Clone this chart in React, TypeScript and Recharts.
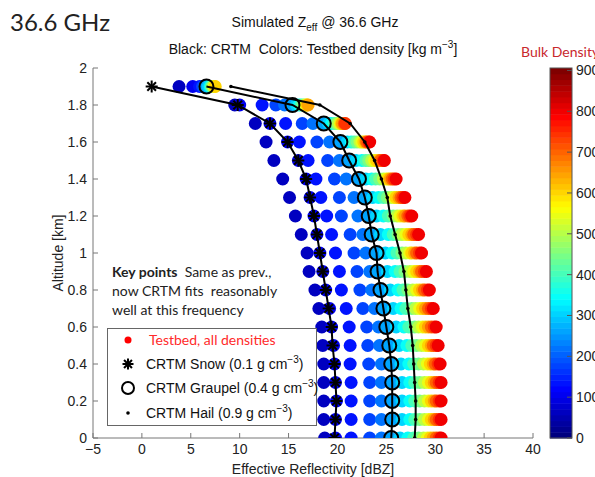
import React from 'react';
import { ScatterChart, Scatter, XAxis, YAxis } from 'recharts';

// altitude of every row [km]
const altitudes = [0, 0.1, 0.2, 0.3, 0.4, 0.5, 0.6, 0.7, 0.8, 0.9, 1.0, 1.1, 1.2, 1.3, 1.4, 1.5, 1.6, 1.7, 1.8, 1.9];

// testbed bulk densities [kg m-3], one per dot in a row
const densities = [60, 100, 140, 180, 220, 260, 300, 350, 400, 450, 500, 550, 600, 650, 700, 750, 800];

// testbed Z_eff [dBZ], one row per altitude, ordered like densities
const testbedZ = [
  [18.7, 19.8, 21.4, 23.3, 24.5, 25.4, 26.4, 27.2, 27.8, 28.3, 28.8, 29.2, 29.5, 29.8, 30.1, 30.4, 30.6],
  [18.6, 19.8, 21.4, 23.3, 24.5, 25.6, 26.6, 27.4, 27.9, 28.4, 28.9, 29.3, 29.6, 29.9, 30.1, 30.4, 30.6],
  [18.6, 19.9, 21.4, 23.3, 24.5, 25.6, 26.6, 27.4, 27.9, 28.4, 28.9, 29.3, 29.6, 29.9, 30.1, 30.4, 30.6],
  [18.6, 19.8, 21.4, 23.3, 24.5, 25.6, 26.6, 27.4, 27.9, 28.4, 28.9, 29.3, 29.6, 29.9, 30.1, 30.4, 30.6],
  [18.6, 19.7, 21.3, 23.2, 24.5, 25.5, 26.5, 27.3, 27.8, 28.3, 28.8, 29.2, 29.5, 29.8, 30.0, 30.3, 30.5],
  [18.5, 19.6, 21.3, 23.1, 24.3, 25.3, 26.3, 27.1, 27.6, 28.1, 28.6, 29.0, 29.3, 29.6, 29.8, 30.1, 30.3],
  [18.4, 19.4, 21.2, 23.0, 24.2, 25.0, 26.0, 26.8, 27.3, 27.9, 28.3, 28.7, 29.0, 29.3, 29.6, 29.9, 30.1],
  [18.1, 19.2, 20.9, 22.6, 23.8, 24.7, 25.7, 26.5, 27.0, 27.6, 28.0, 28.4, 28.7, 29.0, 29.3, 29.6, 29.8],
  [17.7, 18.8, 20.4, 22.3, 23.5, 24.4, 25.4, 26.2, 26.7, 27.2, 27.7, 28.1, 28.4, 28.7, 28.9, 29.2, 29.4],
  [17.1, 18.5, 20.2, 22.0, 23.3, 24.1, 25.1, 25.9, 26.4, 26.9, 27.4, 27.8, 28.1, 28.4, 28.6, 28.9, 29.1],
  [16.9, 18.2, 19.8, 21.7, 22.9, 24.0, 24.9, 25.6, 26.1, 26.6, 27.0, 27.4, 27.6, 27.9, 28.1, 28.4, 28.6],
  [16.3, 17.9, 19.4, 21.3, 22.6, 23.5, 24.4, 25.2, 25.7, 26.2, 26.6, 27.0, 27.3, 27.6, 27.8, 28.1, 28.3],
  [15.7, 17.6, 18.9, 20.4, 22.1, 23.2, 24.0, 24.7, 25.2, 25.7, 26.1, 26.4, 26.7, 26.9, 27.2, 27.4, 27.6],
  [15.1, 17.2, 18.3, 20.2, 21.7, 22.8, 23.6, 24.2, 24.7, 25.1, 25.5, 25.8, 26.0, 26.3, 26.5, 26.7, 26.9],
  [14.4, 16.8, 17.8, 19.7, 20.9, 22.2, 22.9, 23.5, 23.9, 24.3, 24.7, 25.0, 25.2, 25.4, 25.6, 25.8, 26.0],
  [13.5, 16.0, 17.0, 19.0, 20.2, 21.2, 21.9, 22.5, 22.9, 23.2, 23.5, 23.8, 24.0, 24.3, 24.4, 24.7, 24.8],
  [12.7, 14.9, 16.1, 17.9, 19.2, 20.3, 21.0, 21.4, 21.7, 22.0, 22.3, 22.5, 22.7, 22.9, 23.0, 23.2, 23.3],
  [11.6, 13.1, 14.7, 16.4, 17.5, 18.6, 19.1, 19.4, 19.7, 19.9, 20.1, 20.3, 20.4, 20.5, 20.7, 20.8],
  [9.5, 10.0, 12.3, 13.7, 14.6, 15.4, 15.8, 16.1, 16.3, 16.5, 16.7, 16.8, 16.9, 17.0],
  [3.8, 5.2, 5.9, 6.2, 6.4, 6.6, 6.8, 7.0, 7.1, 7.2, 7.3, 7.4, 7.5],
];

// CRTM profiles [dBZ], ordered like altitudes
const snowZ = [19.7, 19.8, 19.9, 19.8, 19.7, 19.5, 19.4, 19.1, 18.8, 18.5, 18.2, 17.9, 17.6, 17.2, 16.8, 16.0, 14.9, 13.1, 9.8, 1.0];
const graupelZ = [25.5, 25.6, 25.6, 25.6, 25.5, 25.3, 25.0, 24.7, 24.4, 24.1, 24.0, 23.5, 23.2, 22.8, 22.2, 21.2, 20.3, 18.6, 15.4, 6.6];
const hailZ = [27.9, 28.0, 28.0, 27.9, 27.8, 27.7, 27.5, 27.2, 27.0, 26.8, 26.4, 25.9, 25.4, 25.1, 24.5, 23.8, 22.8, 21.3, 18.2, 9.1];

const xTicks = [-5, 0, 5, 10, 15, 20, 25, 30, 35, 40];
const yTicks = [0, 0.2, 0.4, 0.6, 0.8, 1, 1.2, 1.4, 1.6, 1.8, 2];
const cbarTicks = [0, 100, 200, 300, 400, 500, 600, 700, 800, 900];
const CMAX = 906;

// matlab jet, 64 steps
const clamp = (v: number) => Math.max(0, Math.min(1, v));
const jet = (v: number) => {
  const r = clamp(1.5 - Math.abs(4 * v - 3));
  const g = clamp(1.5 - Math.abs(4 * v - 2));
  const b = clamp(1.5 - Math.abs(4 * v - 1));
  return `rgb(${Math.round(r * 255)},${Math.round(g * 255)},${Math.round(b * 255)})`;
};
const jet64 = Array.from({ length: 64 }, (_, i) => jet(i / 63));
const densityColor = (d: number) => jet64[Math.min(63, Math.floor((d / CMAX) * 64))];

const testbedPts = testbedZ.flatMap((row, i) => row.map((z, j) => ({ z, alt: altitudes[i], d: densities[j] })));
const snowPts = altitudes.map((alt, i) => ({ alt, z: snowZ[i] }));
const graupelPts = altitudes.map((alt, i) => ({ alt, z: graupelZ[i] }));
const hailPts = altitudes.map((alt, i) => ({ alt, z: hailZ[i] }));

const ARIAL = '"Liberation Sans", Arial, sans-serif';
const CALIBRI = 'Lato, "Open Sans", sans-serif';

const Star = ({ cx, cy, s = 6 }: any) => (
  <g stroke="#000" strokeWidth={2}>
    <line x1={cx - s} y1={cy} x2={cx + s} y2={cy} />
    <line x1={cx} y1={cy - s} x2={cx} y2={cy + s} />
    <line x1={cx - s * 0.72} y1={cy - s * 0.72} x2={cx + s * 0.72} y2={cy + s * 0.72} />
    <line x1={cx - s * 0.72} y1={cy + s * 0.72} x2={cx + s * 0.72} y2={cy - s * 0.72} />
  </g>
);

const PLOT_TOP = 68;
const PLOT_BOT = 438;
const cbY = (v: number) => PLOT_BOT - (v / CMAX) * (PLOT_BOT - PLOT_TOP);

export default function App() {
  const bandH = (PLOT_BOT - PLOT_TOP) / 64;
  return (
    <div style={{ position: 'absolute', left: 0, top: 0, width: 595, height: 477, background: '#fff' }}>
      <ScatterChart width={595} height={477} margin={{ top: 68, right: 62, bottom: 9, left: 33 }}>
        <XAxis
          type="number"
          dataKey="z"
          domain={[-5, 40]}
          ticks={xTicks}
          allowDataOverflow
          height={30}
          tickSize={-5}
          tickMargin={11}
          axisLine={{ stroke: '#777' }}
          tickLine={{ stroke: '#777' }}
          tick={{ fontSize: 14, fill: '#222', fontFamily: ARIAL }}
          tickFormatter={(v: number) => String(v).replace('-', '\u2212')}
        />
        <YAxis
          type="number"
          dataKey="alt"
          domain={[0, 2]}
          ticks={yTicks}
          allowDataOverflow
          width={60}
          tickSize={-5}
          tickMargin={11}
          axisLine={{ stroke: '#777' }}
          tickLine={{ stroke: '#777' }}
          tick={{ fontSize: 14, fill: '#222', fontFamily: ARIAL }}
          tickFormatter={(v: number) => String(+v.toFixed(1))}
        />
        <Scatter
          data={testbedPts}
          isAnimationActive={false}
          shape={(p: any) => <circle cx={p.cx} cy={p.cy} r={6.5} fill={densityColor(p.payload.d)} />}
        />
        <Scatter
          data={snowPts}
          isAnimationActive={false}
          line={{ stroke: '#000', strokeWidth: 2 }}
          lineType="joint"
          shape={(p: any) => <Star cx={p.cx} cy={p.cy} />}
        />
        <Scatter
          data={graupelPts}
          isAnimationActive={false}
          line={{ stroke: '#000', strokeWidth: 2 }}
          lineType="joint"
          shape={(p: any) => <circle cx={p.cx} cy={p.cy} r={7} fill="none" stroke="#000" strokeWidth={2} />}
        />
        <Scatter
          data={hailPts}
          isAnimationActive={false}
          line={{ stroke: '#000', strokeWidth: 2 }}
          lineType="joint"
          shape={(p: any) => <circle cx={p.cx} cy={p.cy} r={1.8} fill="#000" />}
        />
      </ScatterChart>

      <svg width={595} height={477} style={{ position: 'absolute', left: 0, top: 0, pointerEvents: 'none' }}>
        {/* headings */}
        <text x={10} y={31} fontFamily={CALIBRI} fontSize={24} fill="#222">36.6 GHz</text>
        <text x={315} y={27} textAnchor="middle" fontFamily={ARIAL} fontSize={14} fill="#111">
          Simulated Z<tspan dy={4} fontSize={10}>eff</tspan><tspan dy={-4}> @ 36.6 GHz</tspan>
        </text>
        <text x={313} y={54} textAnchor="middle" fontFamily={ARIAL} fontSize={14} fill="#111" style={{ whiteSpace: 'pre' }}>
          {'Black: CRTM  Colors: Testbed density [kg m'}<tspan dy={-6} fontSize={10}>{'\u22123'}</tspan><tspan dy={6}>]</tspan>
        </text>

        {/* axis titles */}
        <text x={313} y={474} textAnchor="middle" fontFamily={ARIAL} fontSize={14} fill="#222">Effective Reflectivity [dBZ]</text>
        <text x={63} y={253} textAnchor="middle" fontFamily={ARIAL} fontSize={14} fill="#222" transform="rotate(-90 63 253)">Altitude [km]</text>

        {/* colorbar */}
        <text x={521} y={57} fontFamily={CALIBRI} fontSize={14} fill="#c8282d">Bulk Density</text>
        {jet64.map((c, i) => (
          <rect key={i} x={550} y={PLOT_BOT - (i + 1) * bandH} width={22} height={bandH + 0.5} fill={c} />
        ))}
        <rect x={550} y={PLOT_TOP} width={22} height={PLOT_BOT - PLOT_TOP} fill="none" stroke="#555" strokeWidth={1} />
        {cbarTicks.map((t) => (
          <g key={t}>
            <line x1={567} x2={572} y1={cbY(t)} y2={cbY(t)} stroke="#555" />
            <text x={576} y={cbY(t) + 5} fontFamily={ARIAL} fontSize={14} fill="#222">{t}</text>
          </g>
        ))}

        {/* key points note */}
        <text x={112} y={277} fontFamily={CALIBRI} fontSize={14} fill="#222" style={{ whiteSpace: 'pre' }}>
          <tspan fontWeight="bold">Key points</tspan>{'  Same as prev.,'}
        </text>
        <text x={112} y={296} fontFamily={CALIBRI} fontSize={14} fill="#222" style={{ whiteSpace: 'pre' }}>{'now CRTM fits  reasonably'}</text>
        <text x={112} y={315} fontFamily={CALIBRI} fontSize={14} fill="#222">well at this frequency</text>

        {/* legend */}
        <rect x={107.5} y={328.5} width={209} height={97} fill="#fff" stroke="#666" />
        <circle cx={128} cy={340} r={3.5} fill="#ff0000" />
        <text x={149} y={345} fontFamily={CALIBRI} fontSize={14} fill="#ff2a2a">Testbed, all densities</text>
        <Star cx={128} cy={364} s={5.5} />
        <text x={146} y={369} fontFamily={ARIAL} fontSize={14} fill="#111">
          CRTM Snow (0.1 g cm<tspan dy={-6} fontSize={10}>{'\u22123'}</tspan><tspan dy={6}>)</tspan>
        </text>
        <circle cx={128} cy={388} r={6} fill="none" stroke="#000" strokeWidth={2} />
        <text x={146} y={393} fontFamily={ARIAL} fontSize={14} fill="#111">
          CRTM Graupel (0.4 g cm<tspan dy={-6} fontSize={10}>{'\u22123'}</tspan><tspan dy={6}>)</tspan>
        </text>
        <circle cx={128} cy={413} r={1.8} fill="#000" />
        <text x={146} y={418} fontFamily={ARIAL} fontSize={14} fill="#111">
          CRTM Hail (0.9 g cm<tspan dy={-6} fontSize={10}>{'\u22123'}</tspan><tspan dy={6}>)</tspan>
        </text>
      </svg>
    </div>
  );
}
